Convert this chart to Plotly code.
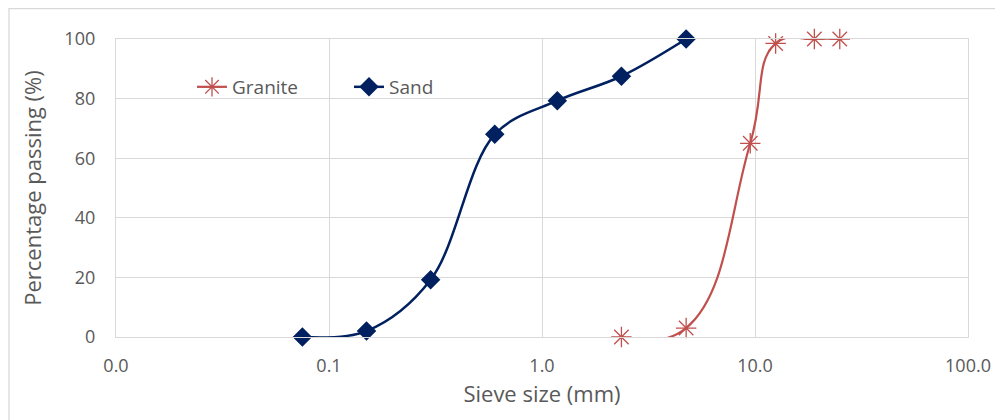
import plotly.graph_objects as go

# Data
sand_size = [0.075, 0.15, 0.3, 0.6, 1.18, 2.36, 4.75]
sand_pass = [0, 2, 19.2, 68, 79.3, 87.5, 100]
granite_size = [2.36, 4.75, 9.5, 12.5, 19, 25]
granite_pass = [0, 3, 65, 98.5, 100, 100]

x_tickvals = [0.01, 0.1, 1, 10, 100]
x_ticktext = ["0.0", "0.1", "1.0", "10.0", "100.0"]
y_tickvals = [0, 20, 40, 60, 80, 100]

FONT = "Open Sans"
TXT = "#595959"
GRID = "#d9d9d9"
RED = "#c0504d"
NAVY = "#002060"

# figure-pixel geometry of the plot area (page is offset by 8px body margin)
L, R, T, B = 108, 43, 31, 91
PW, PH = 1003 - L - R, 420 - T - B

fig = go.Figure()
fig.add_trace(go.Scatter(
    x=granite_size, y=granite_pass, name="Granite", mode="lines+markers",
    line=dict(color=RED, width=2.2, shape="spline", smoothing=1.3),
    marker=dict(symbol="asterisk-open", size=17, color=RED, line=dict(color=RED, width=1.3)),
    cliponaxis=False,
))
fig.add_trace(go.Scatter(
    x=sand_size, y=sand_pass, name="Sand", mode="lines+markers",
    line=dict(color=NAVY, width=2.5, shape="spline", smoothing=1),
    marker=dict(symbol="diamond", size=15, color=NAVY),
    cliponaxis=False,
))

fig.update_layout(
    width=1003, height=420,
    margin=dict(l=L, r=R, t=T, b=B, autoexpand=False),
    paper_bgcolor="white", plot_bgcolor="white",
    font=dict(family=FONT, color=TXT, size=18),
    showlegend=True,
    legend=dict(orientation="h", x=(184 - L) / PW, y=0.839, xanchor="left", yanchor="middle",
                bgcolor="rgba(0,0,0,0)", font=dict(size=19, color=TXT),
                entrywidth=112, entrywidthmode="pixels", tracegroupgap=0),
    xaxis=dict(type="log", range=[-2, 2], tickvals=x_tickvals, ticktext=x_ticktext,
               automargin=False,
               showgrid=True, gridcolor=GRID, gridwidth=1.3,
               showline=True, linecolor=GRID, linewidth=1.3, mirror=True,
               zeroline=False, ticks="", ticklabelstandoff=12,
               tickfont=dict(size=18, color=TXT),
               title=dict(text="Sieve size (mm)", font=dict(size=22, color=TXT), standoff=10)),
    yaxis=dict(range=[0, 100], tickvals=y_tickvals,
               automargin=False,
               showgrid=True, gridcolor=GRID, gridwidth=1.3,
               showline=True, linecolor=GRID, linewidth=1.3, mirror=True,
               zeroline=False, ticks="", ticklabelstandoff=16,
               tickfont=dict(size=18, color=TXT),
               title=dict(text="Percentage passing (%)", font=dict(size=22, color=TXT), standoff=16)),
    shapes=[dict(type="rect", xref="paper", yref="paper",
                 x0=(1 - L) / PW, x1=(1010 - L) / PW,
                 y0=(PH + T - 430) / PH, y1=(PH + T - 0.7) / PH,
                 line=dict(color=GRID, width=1.3), fillcolor="rgba(0,0,0,0)", layer="below")],
)

fig.write_html("out.html")
